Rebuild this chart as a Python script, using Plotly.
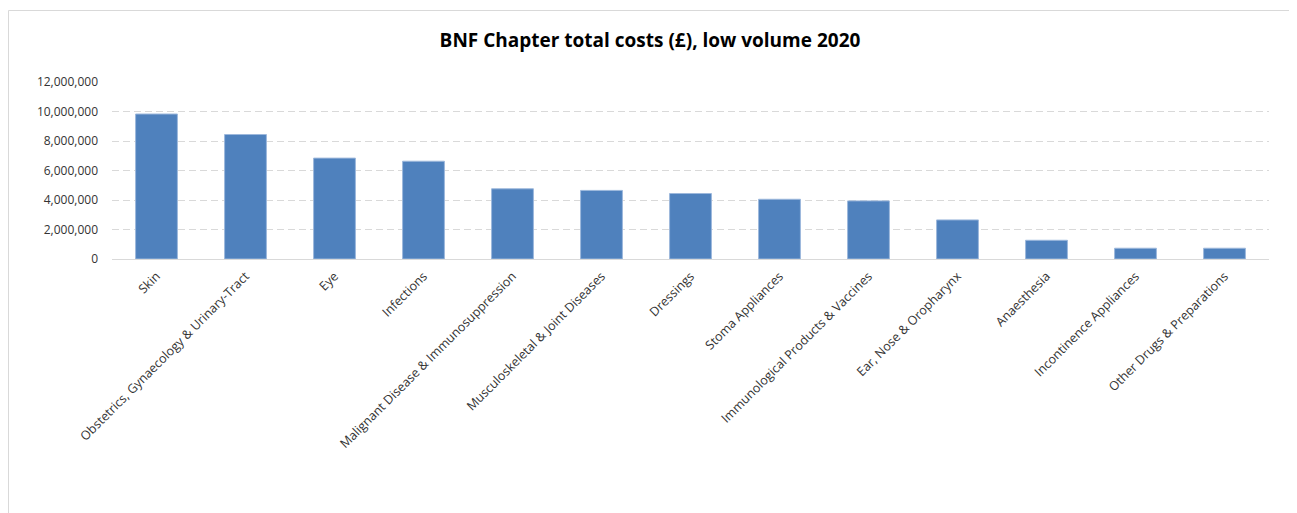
import plotly.graph_objects as go

categories = [
    "Skin",
    "Obstetrics, Gynaecology & Urinary-Tract",
    "Eye",
    "Infections",
    "Malignant Disease & Immunosuppression",
    "Musculoskeletal & Joint Diseases",
    "Dressings",
    "Stoma Appliances",
    "Immunological Products & Vaccines",
    "Ear, Nose & Oropharynx",
    "Anaesthesia",
    "Incontinence Appliances",
    "Other Drugs & Preparations",
]
costs = [
    9830000, 8440000, 6840000, 6630000, 4760000, 4650000, 4440000,
    4050000, 3940000, 2650000, 1270000, 730000, 730000,
]
y_ticks = [0, 2000000, 4000000, 6000000, 8000000, 10000000, 12000000]
title_text = "BNF Chapter total costs (£), low volume 2020"

# page has an 8px body margin; work in page pixels and convert
OFF = 8
W, H = 1297 - OFF, 513 - OFF
plot_left, plot_right, plot_top, plot_bottom = 112, 1269, 82, 259
L = plot_left - OFF
R = W - (plot_right - OFF)
T = plot_top - OFF
B = H - (plot_bottom - OFF)
pw = plot_right - plot_left
ph = plot_bottom - plot_top


def px_x(p):
    return (p - plot_left) / pw


def px_y(p):
    return (plot_bottom - p) / ph


fig = go.Figure(
    go.Bar(
        x=categories,
        y=costs,
        marker=dict(color="#4f81bd", line=dict(color="#9db8dc", width=1)),
        width=0.47,
    )
)

fig.update_layout(
    width=W,
    height=H,
    margin=dict(l=L, r=R, t=T, b=B, pad=0, autoexpand=False),
    paper_bgcolor="white",
    plot_bgcolor="white",
    showlegend=False,
    font=dict(family="Open Sans, sans-serif", color="#333333", size=12),
    title=dict(
        text="<b>" + title_text + "</b>",
        x=(650 - OFF) / W,
        xref="container",
        xanchor="center",
        y=1 - (40 - OFF) / H,
        yref="container",
        yanchor="middle",
        font=dict(family="Open Sans, sans-serif", size=19, color="#000000"),
    ),
    shapes=[
        dict(
            type="rect",
            xref="paper",
            yref="paper",
            x0=px_x(8.5),
            x1=px_x(1290.5),
            y0=px_y(540),
            y1=px_y(10.5),
            line=dict(color="#d9d9d9", width=1),
            fillcolor="rgba(0,0,0,0)",
            layer="below",
        )
    ],
)

fig.update_yaxes(
    range=[0, 12000000],
    tickvals=y_ticks,
    tickformat=",d",
    showgrid=True,
    gridcolor="#d9d9d9",
    griddash="7px,4px",
    gridwidth=1,
    zeroline=False,
    showline=False,
    ticks="",
    ticklabelstandoff=13,
    tickfont=dict(size=12, color="#333333"),
    fixedrange=True,
)
fig.update_xaxes(
    tickangle=-45,
    showline=True,
    linecolor="#d9d9d9",
    linewidth=1,
    showgrid=False,
    ticks="",
    ticklabelstandoff=4,
    tickfont=dict(size=12.5, color="#333333"),
    fixedrange=True,
)

fig.write_html("out.html")
